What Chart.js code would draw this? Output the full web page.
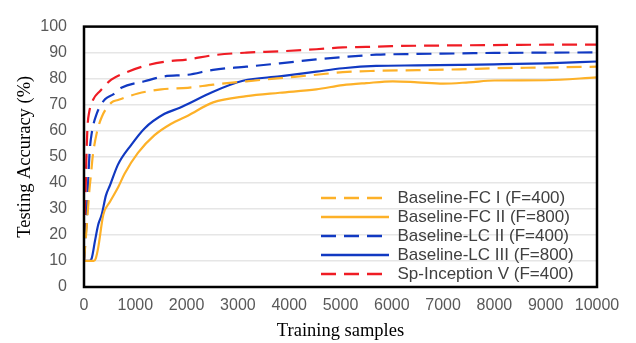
<!DOCTYPE html>
<html>
<head>
<meta charset="utf-8">
<script src="https://cdn.jsdelivr.net/npm/chart.js@4/dist/chart.umd.min.js"></script>
<style>
  html, body { margin: 0; padding: 0; background: #ffffff; }
  #wrap { width: 636px; height: 343px; position: relative; }
</style>
</head>
<body>
<div id="wrap"><canvas id="c" width="636" height="343"></canvas></div>
<script>
// ---- Data ----
const seriesLabels = [
  'Baseline-FC I (F=400)',
  'Baseline-FC II (F=800)',
  'Baseline-LC II (F=400)',
  'Baseline-LC III (F=800)',
  'Sp-Inception V (F=400)'
];

const fc1X = [0, 60, 100, 140, 169, 247, 344, 539, 662, 1051, 1505, 2024, 2517, 3166, 3814, 4528, 5046, 5696, 6500, 7317, 8000, 9000, 10000];
const fc1Y = [10, 25, 36, 44, 50, 59, 65.2, 70.9, 71.8, 74.3, 75.9, 76.5, 77.7, 79, 80.2, 81.5, 82.5, 83, 83.3, 83.6, 84, 84.3, 84.6];

const fc2X = [0, 190, 230, 278, 376, 506, 668, 791, 1051, 1375, 1700, 2024, 2517, 3166, 3814, 4528, 5046, 5500, 6020, 6500, 7000, 7500, 8000, 9000, 10000];
const fc2Y = [10, 10, 11, 15.2, 27.7, 32.7, 38.4, 43.5, 51.5, 58.3, 62.7, 65.8, 70.9, 73.3, 74.6, 75.9, 77.5, 78.3, 79, 78.6, 78.1, 78.6, 79.3, 79.4, 80.5];

const lc2X = [0, 50, 80, 110, 150, 247, 409, 570, 727, 1180, 1570, 2024, 2517, 3166, 3814, 4528, 5046, 5696, 6500, 7317, 8000, 9000, 10000];
const lc2Y = [10, 25, 40, 52, 59, 66.5, 72.1, 74, 76.5, 79, 80.9, 81.5, 83.4, 84.6, 85.9, 87.4, 88.3, 89.2, 89.5, 89.7, 89.9, 90, 90.1];

const lc3X = [0, 100, 150, 214, 278, 344, 428, 506, 662, 921, 1180, 1570, 1868, 2024, 2517, 3100, 3814, 4528, 5046, 5696, 6500, 7317, 8000, 9000, 10000];
const lc3Y = [10, 10, 11, 17.7, 24, 27.7, 35.2, 39, 47, 54.6, 60.9, 66.5, 68.8, 70.3, 75, 79.2, 80.9, 82.7, 84, 84.9, 85.1, 85.3, 85.5, 85.9, 86.6];

const spX = [0, 30, 50, 70, 100, 180, 310, 532, 856, 1180, 1570, 2024, 2517, 3166, 3814, 4528, 5046, 5500, 6000, 7317, 8500, 10000];
const spY = [10, 35, 52, 62, 67, 72, 75.2, 79.6, 82.7, 84.9, 86.5, 87.4, 89, 90, 90.5, 91.3, 92, 92.2, 92.5, 92.8, 93, 93.1];

const xTickMin = 0, xTickMax = 10000, xTickStep = 1000;
const yTickMin = 0, yTickMax = 100, yTickStep = 10;

const xTitle = 'Training samples';
const yTitle = 'Testing Accuracy (%)';

// ---- Styles ----
const ORANGE = '#FDB128';
const BLUE = '#1139C2';
const RED = '#EF1C24';
const DASH = [15, 8];

function pts(xs, ys) { return xs.map((x, i) => ({ x: x, y: ys[i] })); }

function ds(label, xs, ys, color, dashed) {
  return {
    label: label,
    data: pts(xs, ys),
    borderColor: color,
    backgroundColor: color,
    borderWidth: 2.2,
    borderDash: dashed ? DASH : [],
    pointRadius: 0,
    pointHoverRadius: 0,
    fill: false,
    cubicInterpolationMode: 'monotone'
  };
}

const datasets = [
  ds(seriesLabels[0], fc1X, fc1Y, ORANGE, true),
  ds(seriesLabels[1], fc2X, fc2Y, ORANGE, false),
  ds(seriesLabels[2], lc2X, lc2Y, BLUE, true),
  ds(seriesLabels[3], lc3X, lc3Y, BLUE, false),
  ds(seriesLabels[4], spX, spY, RED, true)
];

const frame = {
  id: 'frame',
  afterLayout(chart) {
    const lg = chart.legend;
    if (lg) {
      lg.left = 319;
      lg.top = 187.5;
      lg.right = 600;
      lg.bottom = 292;
      lg.width = lg.right - lg.left;
      lg.height = lg.bottom - lg.top;
    }
  },
  afterDraw(chart) {
    const a = chart.chartArea;
    const ctx = chart.ctx;
    ctx.save();
    ctx.strokeStyle = '#000000';
    ctx.lineWidth = 2.5;
    ctx.strokeRect(a.left, a.top, a.right - a.left, a.bottom - a.top);
    ctx.restore();
  }
};

const tickFont = { family: "'Liberation Sans', Arial, sans-serif", size: 16 };
const titleFont = { family: "'Liberation Serif', 'Times New Roman', serif", size: 18.5 };

new Chart(document.getElementById('c'), {
  type: 'line',
  data: { datasets: datasets },
  options: {
    responsive: false,
    animation: false,
    events: [],
    layout: { padding: { left: 0, top: 21, right: 39, bottom: 0 } },
    scales: {
      x: {
        type: 'linear',
        min: xTickMin, max: xTickMax,
        grid: { display: false, drawTicks: false },
        border: { display: false },
        ticks: {
          stepSize: xTickStep, autoSkip: false, maxRotation: 0, minRotation: 0,
          padding: 9, color: '#595959', font: tickFont,
          callback: (v) => String(v)
        },
        title: { display: true, text: xTitle, color: '#000000', font: titleFont, padding: 1 },
        afterFit(scale) { scale.height = 56; }
      },
      y: {
        type: 'linear',
        min: yTickMin, max: yTickMax,
        grid: { color: '#e6e6e6', lineWidth: 1.4, drawTicks: false },
        border: { display: false },
        ticks: { stepSize: yTickStep, padding: 17, color: '#595959', font: tickFont,
          callback: (v) => String(v) },
        title: { display: true, text: yTitle, color: '#000000', font: titleFont, padding: 14 },
        afterFit(scale) { scale.width = 84; }
      }
    },
    plugins: {
      tooltip: { enabled: false },
      legend: {
        position: 'chartArea',
        align: 'start',
        labels: {
          usePointStyle: true,
          pointStyle: 'line',
          pointStyleWidth: 68,
          padding: 2,
          color: '#404040',
          font: { family: "'Liberation Sans', Arial, sans-serif", size: 17 },
          generateLabels(chart) {
            return chart.data.datasets.map((d, i) => ({
              text: d.label,
              datasetIndex: i,
              fillStyle: d.borderColor,
              strokeStyle: d.borderColor,
              lineWidth: 2.6,
              lineDash: d.borderDash,
              lineCap: 'butt',
              pointStyle: 'line',
              fontColor: '#404040',
              hidden: false
            }));
          }
        }
      }
    }
  },
  plugins: [frame]
});
</script>
</body>
</html>
